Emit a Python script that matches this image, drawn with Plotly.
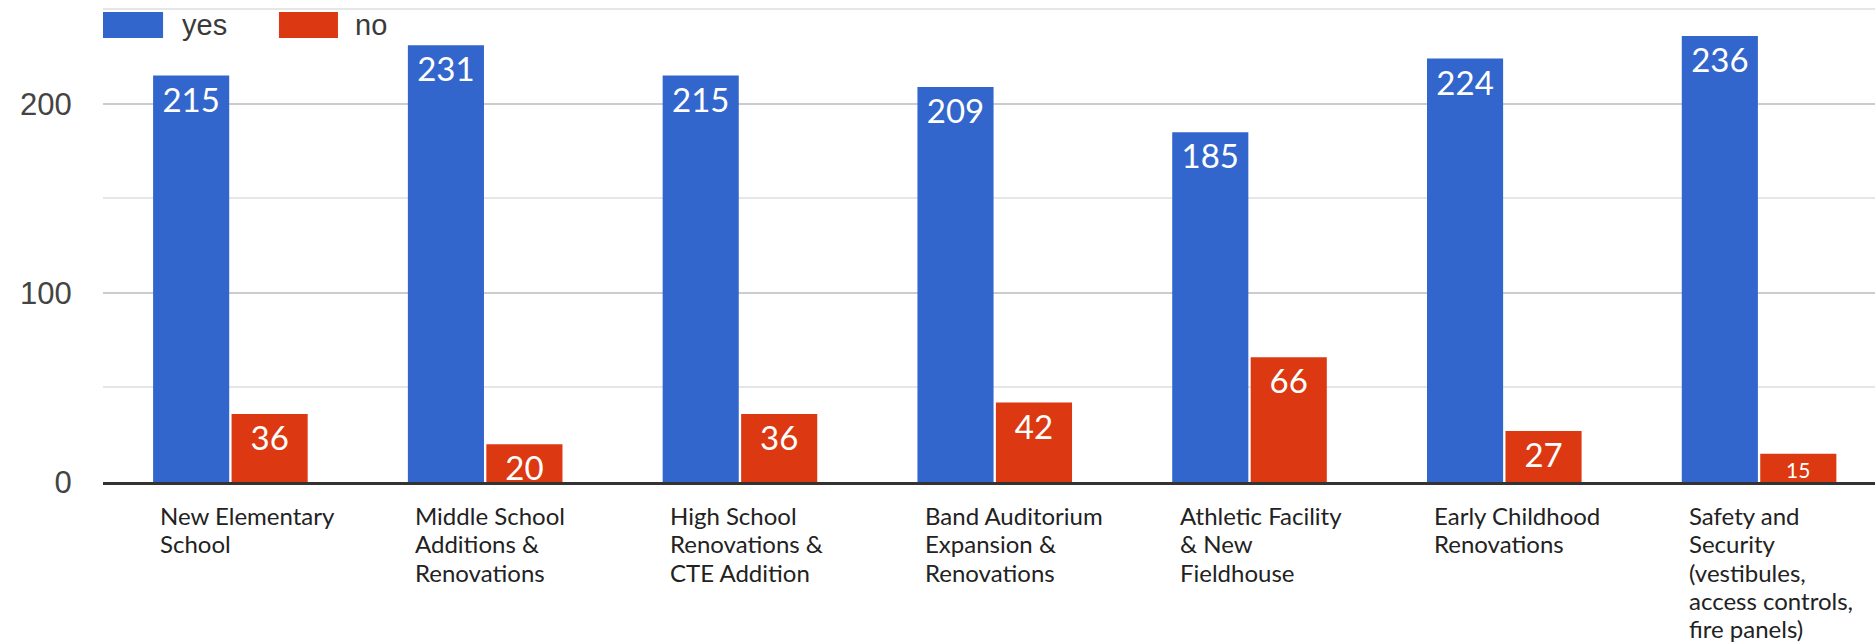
import plotly.graph_objects as go

categories = [
    "New Elementary School",
    "Middle School Additions & Renovations",
    "High School Renovations & CTE Addition",
    "Band Auditorium Expansion & Renovations",
    "Athletic Facility & New Fieldhouse",
    "Early Childhood Renovations",
    "Safety and Security (vestibules, access controls, fire panels)",
]
category_lines = [
    ["New Elementary", "School"],
    ["Middle School", "Additions &", "Renovations"],
    ["High School", "Renovations &", "CTE Addition"],
    ["Band Auditorium", "Expansion &", "Renovations"],
    ["Athletic Facility", "& New", "Fieldhouse"],
    ["Early Childhood", "Renovations"],
    ["Safety and", "Security", "(vestibules,", "access controls,", "fire panels)"],
]
yes_values = [215, 231, 215, 209, 185, 224, 236]
no_values = [36, 20, 36, 42, 66, 27, 15]
series_names = ["yes", "no"]
y_tick_values = [0, 100, 200]

BLUE = "#3366CC"
RED = "#DC3912"
LABEL_FONT = "Lato"


def label_sizes(vals):
    return [33 if v >= 20 else 21 for v in vals]


fig = go.Figure()
for name, vals, color in [(series_names[0], yes_values, BLUE), (series_names[1], no_values, RED)]:
    fig.add_trace(go.Bar(
        name=name,
        x=categories,
        y=vals,
        marker=dict(color=color, line=dict(width=0)),
        text=[str(v) for v in vals],
        textposition="inside",
        insidetextanchor="end",
        textangle=0,
        constraintext="none",
        textfont=dict(color="white", family=LABEL_FONT, size=label_sizes(vals)),
        showlegend=False,
        hoverinfo="x+y+name",
    ))

# Category labels (left-aligned multi-line blocks under each group)
line_h = 28.3
for cat, lines in zip(categories, category_lines):
    for i, line in enumerate(lines):
        fig.add_annotation(
            x=cat, xref="x", y=0, yref="paper",
            text=line, showarrow=False,
            xanchor="left", yanchor="top", xshift=-72,
            yshift=-17 - i * line_h,
            font=dict(family=LABEL_FONT, size=24, color="#222222"),
        )

# Legend drawn at top-left like the original
legend_items = [(series_names[0], BLUE, 0.0, 0.0339, 0.0435), (series_names[1], RED, 0.0993, 0.1326, 0.141)]
for name, color, x0, x1, tx in legend_items:
    fig.add_shape(type="rect", xref="paper", yref="paper", x0=x0, x1=x1, y0=0.921, y1=0.975,
                  fillcolor=color, line=dict(width=0), layer="above")
    fig.add_annotation(x=tx, xref="paper", y=0.948, yref="paper", text=name, showarrow=False,
                       xanchor="left", yanchor="middle",
                       font=dict(family="Liberation Sans, Arial", size=29, color="#3a3a3a"))

fig.update_layout(
    width=1875, height=642,
    margin=dict(l=103, r=0, t=0, b=160),
    paper_bgcolor="white", plot_bgcolor="white",
    barmode="group", bargap=0.384, bargroupgap=0.03,
    showlegend=False,
    xaxis=dict(
        type="category", range=[-0.5, 6.455], showticklabels=False, showgrid=False,
        showline=True, linecolor="#333333", linewidth=3, zeroline=False,
    ),
    yaxis=dict(
        range=[0, 255], tickvals=y_tick_values, showgrid=True, gridcolor="#cccccc", gridwidth=1.5,
        minor=dict(dtick=50, showgrid=True, gridcolor="#e6e6e6", gridwidth=1.5, ticks=""),
        zeroline=False, ticks="outside", ticklen=24, tickcolor="rgba(0,0,0,0)",
        tickfont=dict(family="Liberation Sans, Arial", size=31, color="#444444"),
    ),
)

fig.write_html(
    "out.html",
    config={"displayModeBar": False},
    post_script="document.body.style.margin='0';document.body.style.overflow='hidden';",
)
